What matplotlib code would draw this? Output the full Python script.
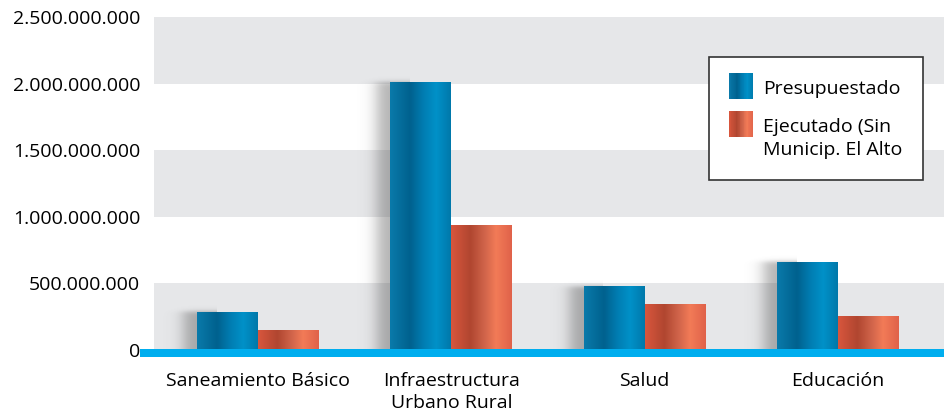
import matplotlib
matplotlib.use("Agg")
import matplotlib.pyplot as plt
import matplotlib.patches as mpatches
from matplotlib.colors import LinearSegmentedColormap
from matplotlib.legend_handler import HandlerPatch
from matplotlib.ticker import FuncFormatter
import matplotlib.transforms as mtrans
import numpy as np

# --- Data ---
categories = ["Saneamiento Básico", "Infraestructura\nUrbano Rural", "Salud", "Educación"]
presupuestado = [285e6, 2005e6, 473e6, 660e6]
ejecutado = [150e6, 938e6, 338e6, 255e6]
series_labels = ["Presupuestado", "Ejecutado (Sin\nMunicip. El Alto"]
yticks = [0, 500e6, 1000e6, 1500e6, 2000e6, 2500e6]

# --- Style ---
FONT = "Open Sans"
FS = 14
BLUE_STOPS = [(0.0, "#0A7AAA"), (0.33, "#00618E"), (0.55, "#007DB2"),
              (0.76, "#0091C8"), (1.0, "#0078AA")]
RED_STOPS = [(0.0, "#D9563D"), (0.32, "#B04630"), (0.55, "#D0644A"),
             (0.74, "#F27B57"), (1.0, "#E0624A")]
blue_cmap = LinearSegmentedColormap.from_list("b", BLUE_STOPS)
red_cmap = LinearSegmentedColormap.from_list("r", RED_STOPS)
BAND = "#E6E7E9"
BASE = "#00AEEF"

plt.rcParams["font.family"] = [FONT, "DejaVu Sans"]

fig = plt.figure(figsize=(9.45, 4.13), dpi=100)
ax = fig.add_axes([154 / 945, 63 / 413, 791 / 945, 333 / 413])

x = np.arange(len(categories))
w = 0.315

XLIM = (-0.537, 3.553)
YLIM = (0, 2500e6)

# alternating gray bands
for i in range(0, len(yticks) - 1):
    if i % 2 == 0:
        ax.axhspan(yticks[i], yticks[i + 1], color=BAND, lw=0, zorder=0)

grad = np.linspace(0, 1, 256).reshape(1, -1)


def soft_box(u, a, b, s):
    # smooth indicator of [a, b] with softness s
    return 0.25 * (1 + np.tanh((u - a) / s)) * (1 + np.tanh((b - u) / s))


def shadow(left, top):
    # blurred shadow behind the left side of a bar
    x0, x1 = left - 0.25, left + 0.1
    y1 = top + 90e6
    xs = np.linspace(x0, x1, 140)
    ys = np.linspace(y1, 0, 200)
    fx = soft_box(xs, left - 0.07, left + 0.3, 0.045)
    fy = soft_box(ys, -1e9, top + 5e6, 20e6)
    img = np.zeros((len(ys), len(xs), 4))
    img[..., :3] = 0.3
    img[..., 3] = 0.42 * np.outer(fy, fx)
    ax.imshow(img, extent=[x0, x1, 0, y1], aspect="auto",
              interpolation="bilinear", zorder=1)


for xi, p, e in zip(x, presupuestado, ejecutado):
    shadow(xi - w, p)
    ax.imshow(grad, cmap=blue_cmap, extent=[xi - w, xi, 0, p],
              aspect="auto", interpolation="bicubic", zorder=3)
    ax.imshow(grad, cmap=red_cmap, extent=[xi, xi + w, 0, e],
              aspect="auto", interpolation="bicubic", zorder=3)

ax.set_xlim(*XLIM)
ax.set_ylim(*YLIM)

# cyan baseline
trans = mtrans.blended_transform_factory(ax.transAxes, ax.transData)
ax.add_patch(mpatches.Rectangle((-0.018, -52e6), 1.02, 58e6, transform=trans,
                                color=BASE, lw=0, clip_on=False, zorder=5))

ax.set_yticks(yticks)
ax.yaxis.set_major_formatter(FuncFormatter(lambda v, _: f"{int(v):,}".replace(",", ".")))
ax.set_xticks(x)
ax.set_xticklabels(categories, fontsize=FS, linespacing=1.3)
ax.tick_params(axis="y", length=0, pad=10, labelsize=FS)
ax.tick_params(axis="x", length=0, pad=16)
for s in ax.spines.values():
    s.set_visible(False)


class GradHandler(HandlerPatch):
    def __init__(self, cmap, lift=0.0):
        super().__init__()
        self.cmap = cmap
        self.lift = lift

    def create_artists(self, legend, orig_handle, xdescent, ydescent,
                       width, height, fontsize, trans):
        arts = []
        n = 30
        hh = 1.3 * fontsize
        y0 = -ydescent + (height - hh) / 2 + self.lift * fontsize
        for k in range(n):
            r = mpatches.Rectangle((-xdescent + width * k / n, y0),
                                   width / n * 1.05, hh,
                                   color=self.cmap((k + 0.5) / n), lw=0)
            r.set_transform(trans)
            arts.append(r)
        return arts


h1 = mpatches.Patch(color="#0078AA")
h2 = mpatches.Patch(color="#D9563D")
leg = ax.legend([h1, h2], series_labels,
                handler_map={h1: GradHandler(blue_cmap, lift=0.1),
                             h2: GradHandler(red_cmap, lift=0.78)},
                loc="upper right", bbox_to_anchor=(0.972, 0.88),
                fontsize=FS, frameon=True, fancybox=False, framealpha=1,
                edgecolor="#333333", handlelength=1.25, handleheight=1.3,
                handletextpad=0.5, labelspacing=1.0, borderpad=1.05,
                borderaxespad=0)
leg.get_frame().set_linewidth(1.2)
leg.set_zorder(10)
for t in leg.get_texts():
    t.set_linespacing(1.38)

fig.savefig("out.png", dpi=100)
